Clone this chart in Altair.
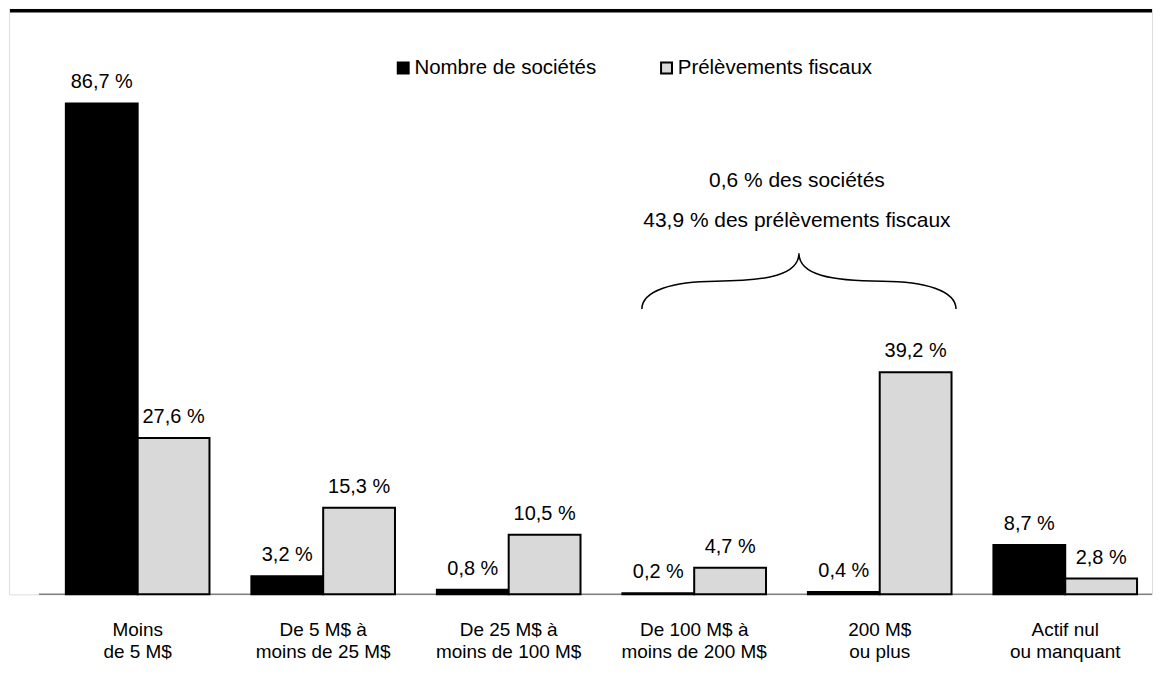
import altair as alt
import pandas as pd

categories = [
    "Moins\nde 5 M$",
    "De 5 M$ à\nmoins de 25 M$",
    "De 25 M$ à\nmoins de 100 M$",
    "De 100 M$ à\nmoins de 200 M$",
    "200 M$\nou plus",
    "Actif nul\nou manquant",
]
series = ["Nombre de sociétés", "Prélèvements fiscaux"]
societes = [86.7, 3.2, 0.8, 0.2, 0.4, 8.7]
prelevements = [27.6, 15.3, 10.5, 4.7, 39.2, 2.8]
colors = ["#000000", "#d9d9d9"]
annotation_lines = ["0,6 % des sociétés", "43,9 % des prélèvements fiscaux"]

rows = []
for c, a, b in zip(categories, societes, prelevements):
    rows.append({"cat": c, "serie": series[0], "val": a})
    rows.append({"cat": c, "serie": series[1], "val": b})
df = pd.DataFrame(rows)
df["label"] = df["val"].map(lambda v: f"{v:.1f}".replace(".", ",") + " %")

FONT = "Liberation Sans"
W, H = 1146, 587

xscale = alt.Scale(domain=categories, range=[36, 1152], paddingInner=0.2258, paddingOuter=0.1129)
yscale = alt.Scale(domain=[0, 103.4], nice=False, zero=True)

base = alt.Chart(df)

baseline = alt.Chart(pd.DataFrame({"v": [0]})).mark_rule(color="#808080", strokeWidth=1.5).encode(
    y=alt.Y("v:Q", scale=yscale, axis=None),
    x=alt.value(30),
    x2=alt.value(W),
)

topline = alt.Chart(pd.DataFrame({"v": [0]})).mark_rule(color="black", strokeWidth=3.5).encode(
    x=alt.value(1), x2=alt.value(W), y=alt.value(2)
)

bars = base.mark_bar(stroke="black", strokeWidth=2).encode(
    x=alt.X(
        "cat:N",
        scale=xscale,
        sort=categories,
        axis=alt.Axis(
            title=None,
            labelAngle=0,
            labelExpr="split(datum.value, '\\n')",
            labelFont=FONT,
            labelFontSize=19,
            labelColor="black",
            labelLineHeight=22,
            labelPadding=26,
            labelLimit=300,
            ticks=False,
            domain=False,
            grid=False,
        ),
    ),
    xOffset=alt.XOffset("serie:N", sort=series),
    y=alt.Y("val:Q", scale=yscale, axis=None),
    color=alt.Color(
        "serie:N",
        sort=series,
        scale=alt.Scale(domain=series, range=colors),
        legend=alt.Legend(
            title=None,
            orient="none",
            legendX=385,
            legendY=49,
            direction="horizontal",
            symbolType="square",
            symbolSize=120,
            symbolStrokeColor="black",
            symbolStrokeWidth=2,
            symbolOpacity=1,
            labelFont=FONT,
            labelFontSize=20.5,
            labelColor="black",
            labelOffset=1,
            labelLimit=400,
            columnPadding=60,
        ),
    ),
)

labels = base.mark_text(font=FONT, fontSize=20, color="black", dy=-15, baseline="alphabetic").encode(
    x=alt.X("cat:N", scale=xscale, sort=categories),
    xOffset=alt.XOffset("serie:N", sort=series),
    y=alt.Y("val:Q", scale=yscale, axis=None),
    text="label:N",
)

ann_df = pd.DataFrame({"t": annotation_lines, "py": [179, 219]})
ann = alt.Chart(ann_df).mark_text(font=FONT, fontSize=21, color="black", baseline="alphabetic").encode(
    x=alt.value(790),
    y=alt.Y("py:Q", scale=None),
    text="t:N",
)

brace_path = (
    "M -1 0.178 C -1 0.06 -0.8 0 -0.53 0 "
    "C -0.2 0 0 -0.04 0 -0.178 "
    "C 0 -0.04 0.2 0 0.53 0 "
    "C 0.8 0 1 0.06 1 0.178"
)
brace = alt.Chart(pd.DataFrame({"v": [0]})).mark_point(
    shape=brace_path, size=315 * 315, filled=False, stroke="black", strokeWidth=1.5, opacity=1
).encode(x=alt.value(792), y=alt.value(273))

chart = (
    alt.layer(topline, baseline, bars, labels, ann, brace)
    .resolve_scale(y="shared")
    .properties(width=W, height=H, padding=0)
    .configure_view(stroke=None)
    .configure(font=FONT)
)

chart.save("out.html", embed_options={"renderer": "svg", "actions": False})
